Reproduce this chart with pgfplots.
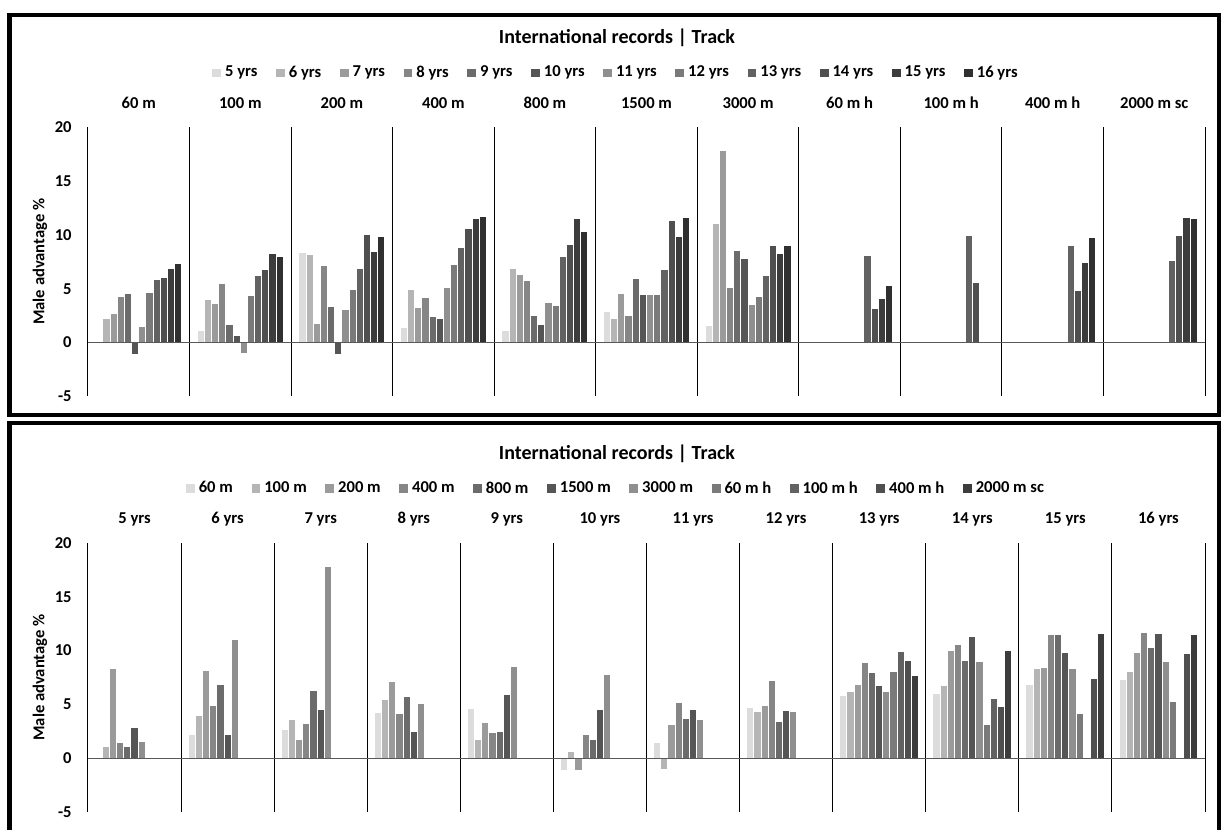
\documentclass[border=0pt]{standalone}
\usepackage{pgfplots}
\usepackage{pgfplotstable}
\pgfplotsset{compat=1.18}
\usepackage{fontspec}
\setmainfont{Carlito}

\definecolor{c1}{HTML}{DCDCDC}
\definecolor{c2}{HTML}{B5B5B5}
\definecolor{c3}{HTML}{9B9B9B}
\definecolor{c4}{HTML}{868686}
\definecolor{c5}{HTML}{6B6B6B}
\definecolor{c6}{HTML}{555555}
\definecolor{c7}{HTML}{8F8F8F}
\definecolor{c8}{HTML}{7A7A7A}
\definecolor{c9}{HTML}{626262}
\definecolor{c10}{HTML}{4F4F4F}
\definecolor{c11}{HTML}{3C3C3C}
\definecolor{c12}{HTML}{303030}

% rows = events (group centres), columns = ages
\pgfplotstableread{
x    a5   a6    a7    a8    a9    a10   a11   a12   a13   a14   a15   a16
0.5  -0.1 2.22  2.7   4.29  4.59  -1.09 1.49  4.68  5.87  6.0   6.85  7.32
1.5  1.1  3.96  3.63  5.5   1.71  0.68  -1.02 4.34  6.2   6.74  8.31  8.03
2.5  8.38 8.19  1.77  7.12  3.35  -1.15 3.1   4.93  6.87  9.99  8.47  9.86
3.5  1.44 4.88  3.22  4.15  2.42  2.26  5.15  7.26  8.85  10.58 11.47 11.66
4.5  1.1  6.87  6.33  5.75  2.54  1.71  3.72  3.41  7.99  9.12  11.47 10.29
5.5  2.88 2.23  4.55  2.5   5.92  4.5   4.5   4.43  6.8   11.32 9.83  11.63
6.5  1.55 11.05 17.78 5.08  8.56  7.78  3.57  4.31  6.2   8.98  8.31  9.02
7.5  nan  nan   nan   nan   nan   nan   nan   nan   8.09  3.16  4.12  5.27
8.5  nan  nan   nan   nan   nan   nan   nan   nan   9.9   5.54  nan   nan
9.5  nan  nan   nan   nan   nan   nan   nan   nan   9.04  4.82  7.44  9.71
10.5 nan  nan   nan   nan   nan   nan   nan   nan   7.66  9.97  11.63 11.53
}\topdata

% rows = ages (group centres), columns = events
\pgfplotstableread{
x    m60   m100  m200  m400  m800  m1500 m3000 h60  h100 h400 sc
0.5  -0.1  1.1   8.38  1.44  1.1   2.88  1.55  nan  nan  nan  nan
1.5  2.22  3.96  8.19  4.88  6.87  2.23  11.05 nan  nan  nan  nan
2.5  2.7   3.63  1.77  3.22  6.33  4.55  17.78 nan  nan  nan  nan
3.5  4.29  5.5   7.12  4.15  5.75  2.5   5.08  nan  nan  nan  nan
4.5  4.59  1.71  3.35  2.42  2.54  5.92  8.56  nan  nan  nan  nan
5.5  -1.09 0.68  -1.15 2.26  1.71  4.5   7.78  nan  nan  nan  nan
6.5  1.49  -1.02 3.1   5.15  3.72  4.5   3.57  nan  nan  nan  nan
7.5  4.68  4.34  4.93  7.26  3.41  4.43  4.31  nan  nan  nan  nan
8.5  5.87  6.2   6.87  8.85  7.99  6.8   6.2   8.09 9.9  9.04 7.66
9.5  6.0   6.74  9.99  10.58 9.12  11.32 8.98  3.16 5.54 4.82 9.97
10.5 6.85  8.31  8.47  11.47 11.47 9.83  8.31  4.12 nan  7.44 11.63
11.5 7.32  8.03  9.86  11.66 10.29 11.63 9.02  5.27 nan  9.71 11.53
}\botdata

\pgfplotsset{
  panel/.style={
    at={(44pt,#1)}, anchor=south west, scale only axis,
    width=558.5pt, height=134.75pt,
    ymin=-5, ymax=20, ytick={-5,0,5,10,15,20}, yticklabels={-5,0,5,10,15,20},
    axis line style={draw=none},
    major tick length=0pt, minor tick length=0pt,
    xticklabel pos=right,
    xticklabel style={anchor=base, yshift=9.4pt},
    yticklabel style={inner sep=0pt, xshift=-8pt},
    xminorgrids=true, minor grid style={black, line width=0.5pt},
    ybar=0pt, bar width=3.585pt,
    legend image code/.code={\fill[##1,draw=none] (0pt,-2.2pt) rectangle (4.4pt,2.2pt);},
    legend style={at={(0.4736,1)}, anchor=center, yshift=27pt, draw=none, fill=none,
      /tikz/every even column/.append style={column sep=7.3pt}, inner sep=0pt,
      font=\bfseries\fontsize{8.3}{10}\selectfont},
    legend columns=-1,
    legend cell align=left,
    title style={at={(0.4736,1)}, anchor=center, yshift=38.5pt, font=\bfseries\fontsize{10}{12}\selectfont},
    ylabel={Male advantage \%},
    ylabel style={at={(axis description cs:-0.043,0.5)}, anchor=center},
    every axis plot/.append style={draw=white, line width=0.5pt},
    clip=false,
  }
}

\begin{document}
\begin{tikzpicture}[font=\bfseries\fontsize{8.3}{10}\selectfont]
\useasboundingbox (0,0) rectangle (611pt,415pt);
\clip (0,0) rectangle (611pt,415pt);
\draw[line width=2.2pt] (4.75pt,207.5pt) rectangle (609.5pt,407.5pt);
\draw[line width=2.2pt] (4.75pt,-10pt) rectangle (609.5pt,203.5pt);

\begin{axis}[panel=216.75pt,
  xmin=0, xmax=11,
  xtick={0.5,1.5,...,10.5},
  xticklabels={60 m,100 m,200 m,400 m,800 m,1500 m,3000 m,60 m h,100 m h,400 m h,2000 m sc},
  minor xtick={0,1,...,11},
  title={International records | Track},
]
\addplot[fill=c1] table[x=x,y=a5]{\topdata};
\addplot[fill=c2] table[x=x,y=a6]{\topdata};
\addplot[fill=c3] table[x=x,y=a7]{\topdata};
\addplot[fill=c4] table[x=x,y=a8]{\topdata};
\addplot[fill=c5] table[x=x,y=a9]{\topdata};
\addplot[fill=c6] table[x=x,y=a10]{\topdata};
\addplot[fill=c7] table[x=x,y=a11]{\topdata};
\addplot[fill=c8] table[x=x,y=a12]{\topdata};
\addplot[fill=c9] table[x=x,y=a13]{\topdata};
\addplot[fill=c10] table[x=x,y=a14]{\topdata};
\addplot[fill=c11] table[x=x,y=a15]{\topdata};
\addplot[fill=c12] table[x=x,y=a16]{\topdata};
\legend{5 yrs,6 yrs,7 yrs,8 yrs,9 yrs,10 yrs,11 yrs,12 yrs,13 yrs,14 yrs,15 yrs,16 yrs}
\draw[black!65, line width=0.6pt] (axis cs:0,0) -- (axis cs:11,0);
\end{axis}

\begin{axis}[panel=8.85pt,
  xmin=0, xmax=12,
  xtick={0.5,1.5,...,11.5},
  xticklabels={5 yrs,6 yrs,7 yrs,8 yrs,9 yrs,10 yrs,11 yrs,12 yrs,13 yrs,14 yrs,15 yrs,16 yrs},
  minor xtick={0,1,...,12},
  title={International records | Track},
]
\addplot[fill=c1] table[x=x,y=m60]{\botdata};
\addplot[fill=c2] table[x=x,y=m100]{\botdata};
\addplot[fill=c3] table[x=x,y=m200]{\botdata};
\addplot[fill=c4] table[x=x,y=m400]{\botdata};
\addplot[fill=c5] table[x=x,y=m800]{\botdata};
\addplot[fill=c6] table[x=x,y=m1500]{\botdata};
\addplot[fill=c7] table[x=x,y=m3000]{\botdata};
\addplot[fill=c8] table[x=x,y=h60]{\botdata};
\addplot[fill=c9] table[x=x,y=h100]{\botdata};
\addplot[fill=c10] table[x=x,y=h400]{\botdata};
\addplot[fill=c11] table[x=x,y=sc]{\botdata};
\legend{60 m,100 m,200 m,400 m,800 m,1500 m,3000 m,60 m h,100 m h,400 m h,2000 m sc}
\draw[black!65, line width=0.6pt] (axis cs:0,0) -- (axis cs:12,0);
\end{axis}
\end{tikzpicture}
\end{document}
